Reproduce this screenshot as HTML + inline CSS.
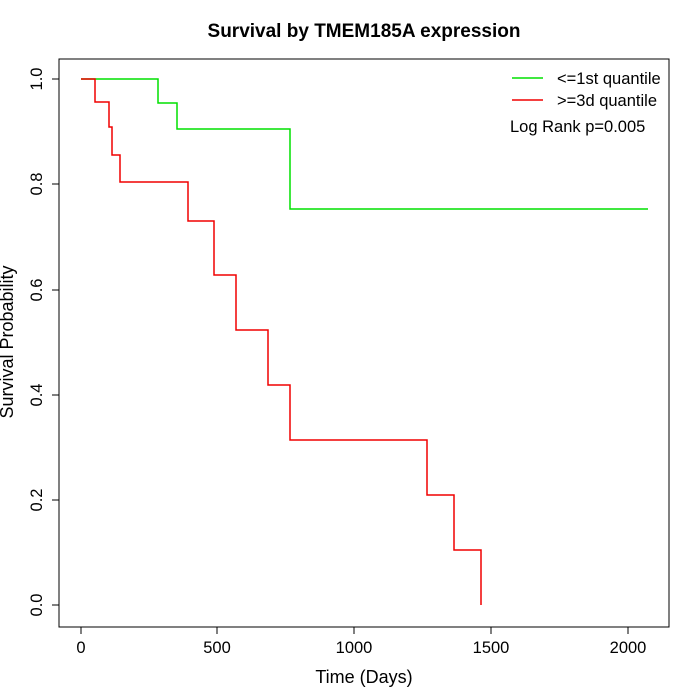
<!DOCTYPE html>
<html><head><style>body{margin:0;background:#fff}svg{display:block}</style></head><body>
<svg width="700" height="700" xmlns="http://www.w3.org/2000/svg" font-family="Liberation Sans, sans-serif">
<rect width="700" height="700" fill="#fff"/>
<text x="364" y="37" text-anchor="middle" font-size="19" font-weight="bold">Survival by TMEM185A expression</text>
<rect x="59" y="59" width="610" height="568" fill="none" stroke="#000"/>
<g stroke="#000">
<line x1="81" y1="627" x2="628" y2="627"/>
<line x1="81" y1="627" x2="81" y2="634"/><line x1="217" y1="627" x2="217" y2="634"/><line x1="354" y1="627" x2="354" y2="634"/><line x1="491" y1="627" x2="491" y2="634"/><line x1="628" y1="627" x2="628" y2="634"/>
<line x1="59" y1="79" x2="59" y2="605"/>
<line x1="52" y1="79" x2="59" y2="79"/><line x1="52" y1="184" x2="59" y2="184"/><line x1="52" y1="290" x2="59" y2="290"/><line x1="52" y1="395" x2="59" y2="395"/><line x1="52" y1="500" x2="59" y2="500"/><line x1="52" y1="605" x2="59" y2="605"/>
</g>
<g font-size="16.5" text-anchor="middle">
<text x="81" y="653">0</text><text x="217" y="653">500</text><text x="354" y="653">1000</text><text x="491" y="653">1500</text><text x="628" y="653">2000</text>
<g transform="translate(42,0)">
<text transform="translate(0,79) rotate(-90)" y="0">1.0</text>
<text transform="translate(0,184) rotate(-90)">0.8</text>
<text transform="translate(0,290) rotate(-90)">0.6</text>
<text transform="translate(0,395) rotate(-90)">0.4</text>
<text transform="translate(0,500) rotate(-90)">0.2</text>
<text transform="translate(0,605) rotate(-90)">0.0</text>
</g>
</g>
<g font-size="18" text-anchor="middle">
<text x="364" y="683">Time (Days)</text>
<text transform="translate(13,342) rotate(-90)">Survival Probability</text>
</g>
<polyline fill="none" stroke="#00e000" stroke-width="1.5" points="81,79 158,79 158,103 177,103 177,129 290,129 290,209 648,209"/>
<polyline fill="none" stroke="#f00000" stroke-width="1.5" points="81,79 95,79 95,102 109,102 109,127 112,127 112,155 120,155 120,182 188,182 188,221 214,221 214,275 236,275 236,330 268,330 268,385 290,385 290,440 427,440 427,495 454,495 454,550 481,550 481,605"/>
<line x1="512" y1="78" x2="543" y2="78" stroke="#00e000" stroke-width="1.5"/>
<line x1="512" y1="100" x2="543" y2="100" stroke="#f00000" stroke-width="1.5"/>
<g font-size="16.5">
<text x="557" y="84">&lt;=1st quantile</text>
<text x="557" y="106">&gt;=3d quantile</text>
<text x="510" y="132">Log Rank p=0.005</text>
</g>
</svg>
</body></html>
